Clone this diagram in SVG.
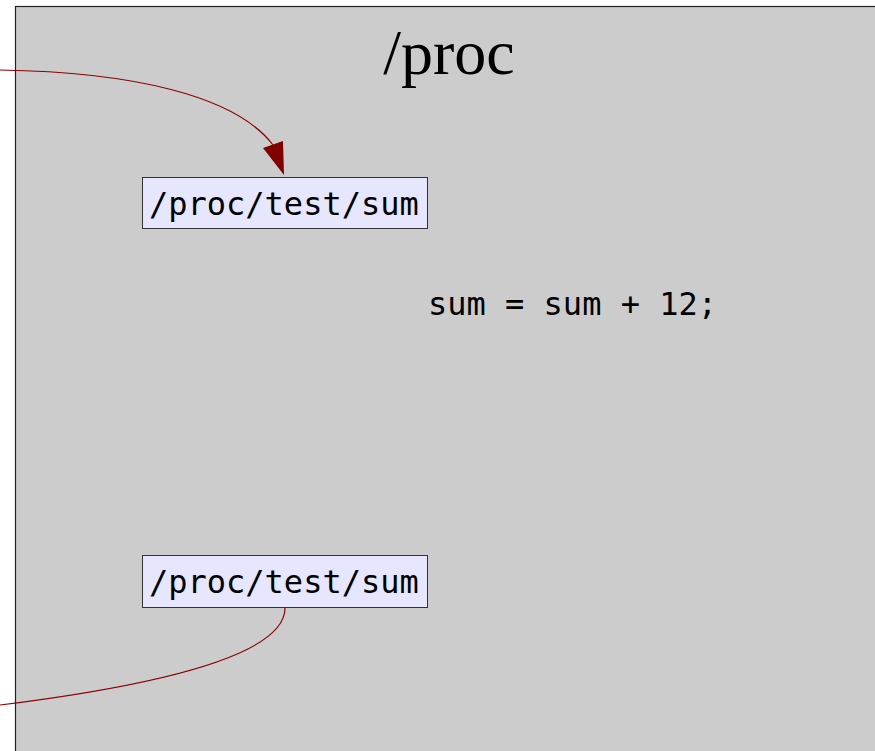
<svg xmlns="http://www.w3.org/2000/svg" width="875" height="751" viewBox="0 0 875 751">
<style>
.mono{font-family:"DejaVu Sans Mono","Liberation Mono",monospace;font-size:32px;fill:#000}
.box{fill:#e6e6ff;stroke:#333333;stroke-width:1}
.conn{fill:none;stroke:#8b0000;stroke-width:1.2}
</style>
<rect id="proc-bg" x="15.5" y="6.5" width="880" height="760" fill="#cccccc" stroke="#222222" stroke-width="1.2"/>
<text x="449" y="74" text-anchor="middle" font-family="Liberation Serif,serif" font-size="64" fill="#000">/proc</text>
<g id="node-sum-top">
<rect class="box" x="142.5" y="177.5" width="285" height="51"/>
<text class="mono" x="149" y="215">/proc/test/sum</text>
</g>
<g id="node-code">
<text class="mono" x="428" y="315">sum = sum + 12;</text>
</g>
<g id="node-sum-bottom">
<rect class="box" x="142.5" y="555.5" width="285" height="52"/>
<text class="mono" x="149" y="593">/proc/test/sum</text>
</g>
<g id="connectors">
<path class="conn" d="M0,70 C130,72 235,95 273,145"/>
<polygon points="284,175 263,148 283,141" fill="#800000"/>
<path class="conn" d="M285,608 C285,655 160,685 0,705"/>
</g>
</svg>
